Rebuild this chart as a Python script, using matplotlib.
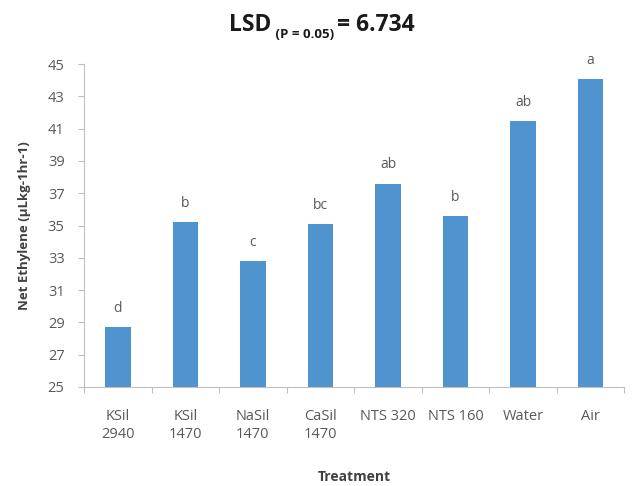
import matplotlib
matplotlib.use("Agg")
import matplotlib.pyplot as plt
import numpy as np

treatments = ["KSil\n2940", "KSil\n1470", "NaSil\n1470", "CaSil\n1470",
              "NTS 320", "NTS 160", "Water", "Air"]
net_ethylene = [28.7, 35.2, 32.8, 35.1, 37.6, 35.6, 41.5, 44.1]
groups = ["d", "b", "c", "bc", "ab", "b", "ab", "a"]
y_ticks = list(range(25, 46, 2))

plt.rcParams["font.family"] = ["Open Sans", "DejaVu Sans"]

gray_text = "#595959"
axis_gray = "#bfbfbf"
bar_color = "#4f93cf"

fig = plt.figure(figsize=(6.32, 4.86), dpi=100)
ax = fig.add_axes([0.133, 0.204, 0.855, 0.664])

x = np.arange(len(treatments))
bars = ax.bar(x, np.array(net_ethylene) - 25, bottom=25, width=0.38,
              color=bar_color, zorder=2)

for xi, val, g in zip(x, net_ethylene, groups):
    ax.annotate(g, (xi, val), xytext=(0, 8), textcoords="offset points",
                ha="center", va="bottom", fontsize=10, color=gray_text)

ax.set_xlim(-0.5, len(treatments) - 0.5)
ax.set_ylim(25, 45)
ax.set_yticks(y_ticks)
ax.set_yticklabels([str(t) for t in y_ticks])
ax.set_xticks(x)
ax.set_xticklabels(treatments, linespacing=1.25)
ax.set_xticks(np.arange(-0.5, len(treatments), 1.0), minor=True)

ax.tick_params(axis="y", colors=axis_gray, labelcolor=gray_text,
               labelsize=10.5, length=4, width=0.8, pad=10)
ax.tick_params(axis="x", which="major", length=0, labelcolor=gray_text,
               labelsize=10.5, pad=16)
ax.tick_params(axis="x", which="minor", length=4, width=0.8, colors=axis_gray)

for side in ("top", "right"):
    ax.spines[side].set_visible(False)
for side in ("left", "bottom"):
    ax.spines[side].set_color(axis_gray)
    ax.spines[side].set_linewidth(0.8)

ax.set_ylabel("Net Ethylene (µLkg-1hr-1)", fontsize=9.5, fontweight="bold",
              color="#404040", labelpad=12)
ax.set_xlabel("Treatment", fontsize=10, fontweight="bold", color="#404040",
              labelpad=20)

# Title built from pieces so the sample condition sits as a subscript
fig.canvas.draw()
renderer = fig.canvas.get_renderer()
y_title = 1 - 31 / 486
parts = [("LSD", 16.5, 0.0), (" (P = 0.05) ", 9.5, -0.014), ("= 6.734", 16.5, 0.0)]
texts = []
for s, size, dy in parts:
    t = fig.text(0, y_title + dy, s, fontsize=size, fontweight="bold",
                 color="#1a1a1a", ha="left", va="baseline")
    texts.append(t)
widths = []
for t in texts:
    bb = t.get_window_extent(renderer)
    widths.append(bb.width / fig.bbox.width)
total = sum(widths)
x0 = 0.5 + 6 / 632 - total / 2
for t, w in zip(texts, widths):
    t.set_x(x0)
    x0 += w

fig.savefig("out.png", dpi=100)
